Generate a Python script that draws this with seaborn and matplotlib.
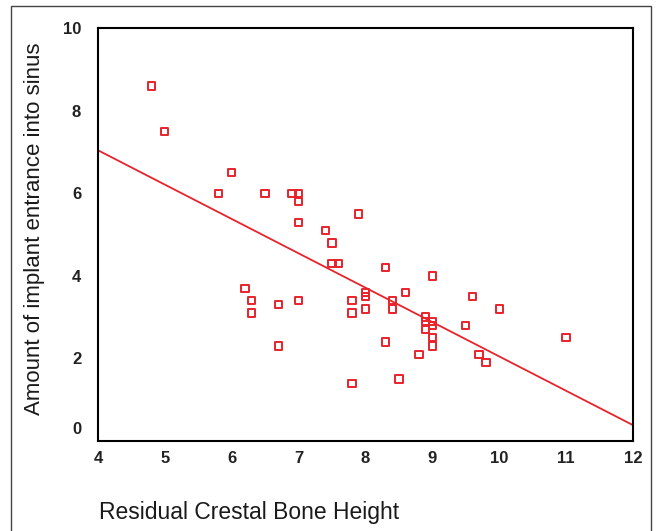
import numpy as np
import pandas as pd
import matplotlib
matplotlib.use("Agg")
import matplotlib.pyplot as plt
import matplotlib.transforms as mtransforms
from matplotlib.patches import Rectangle
import seaborn as sns

# values
bone_height = [4.8, 5.0, 6.0, 5.8, 6.5, 6.9, 7.0, 7.0, 7.0, 7.9, 7.4, 7.5, 7.5, 7.6,
               8.3, 9.0, 8.0, 8.0, 8.6, 9.6, 7.0, 7.8, 8.4, 8.4, 7.8, 8.0, 6.2, 6.3,
               6.3, 6.7, 6.7, 8.9, 9.0, 8.9, 9.0, 8.9, 9.0, 9.0, 9.5, 8.3, 8.8, 9.7,
               9.8, 7.8, 8.5, 10.0, 11.0]
entrance = [8.6, 7.5, 6.5, 6.0, 6.0, 6.0, 6.0, 5.8, 5.3, 5.5, 5.1, 4.8, 4.3, 4.3,
            4.2, 4.0, 3.6, 3.5, 3.6, 3.5, 3.4, 3.4, 3.4, 3.2, 3.1, 3.2, 3.7, 3.4,
            3.1, 3.3, 2.3, 3.0, 2.9, 2.9, 2.8, 2.7, 2.5, 2.3, 2.8, 2.4, 2.1, 2.1,
            1.9, 1.4, 1.5, 3.2, 2.5]
x_ticks = [4, 5, 6, 7, 8, 9, 10, 11, 12]
y_ticks = [0, 2, 4, 6, 8, 10]

df = pd.DataFrame({"height": bone_height, "entrance": entrance})

sns.set_style("white")
plt.rcParams['font.family'] = ['Liberation Sans', 'DejaVu Sans']
red = '#e8232b'

fig = plt.figure(figsize=(6.57, 5.31), dpi=100)
ax = fig.add_axes([0.149, 0.1695, 0.8145, 0.7775])

# outer frame
fig.patches.append(Rectangle((11/657, -0.05), 640/657, 1.05 - 6/531,
                             transform=fig.transFigure, fill=False,
                             edgecolor='#444444', lw=1.0))

ax.set_xlim(4, 12)
ax.set_ylim(0, 10)
sns.scatterplot(x="height", y="entrance", data=df, ax=ax, marker='s', s=28,
                facecolor='none', edgecolor=red, linewidth=1.4)
sns.regplot(x="height", y="entrance", data=df, ax=ax, scatter=False, ci=None,
            truncate=False, color=red, line_kws={'lw': 1.3})
ax.set_xlim(4, 12)
ax.set_ylim(0, 10)

ax.set_xticks(x_ticks)
ax.set_yticks(y_ticks)
ax.tick_params(axis='both', direction='out', length=3, width=1.2, color='black',
               labelsize=12, pad=4)
ax.tick_params(axis='y', pad=9)
for lab in ax.get_xticklabels() + ax.get_yticklabels():
    lab.set_fontweight('bold')
    lab.set_color('#222222')
# shift the "0" label up as in the reference
zero = ax.get_yticklabels()[0]
zero.set_transform(zero.get_transform() + mtransforms.ScaledTranslation(0, 0.13, fig.dpi_scale_trans))

for sp in ax.spines.values():
    sp.set_color('black')
    sp.set_linewidth(1.5)

ax.set_xlabel("")
ax.set_ylabel("")
fig.text(99/657, 1 - 512/531, "Residual Crestal Bone Height", fontsize=16.5,
         ha='left', va='center', color='#1a1a1a')
fig.text(35/657, 1 - 229/531, "Amount of implant entrance into sinus", fontsize=16,
         rotation=90, ha='center', va='center', color='#1a1a1a')

fig.savefig("out.png", dpi=100)
